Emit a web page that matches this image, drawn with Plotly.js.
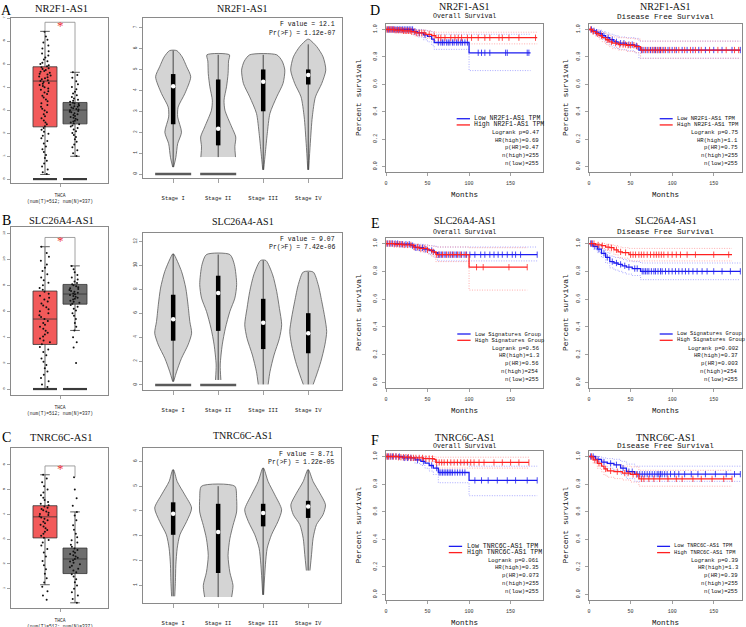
<!DOCTYPE html>
<html>
<head>
<meta charset="utf-8">
<script src="https://cdn.plot.ly/plotly-3.0.1.min.js"></script>
<style>
  html, body { margin: 0; padding: 0; background: #fff; }
  #fig { width: 746px; height: 627px; }
</style>
</head>
<body>
<div id="fig"></div>
<script>
// ---------- data ----------
const genes = ['NR2F1-AS1', 'SLC26A4-AS1', 'TNRC6C-AS1'];
const letters = [['A', 'D'], ['B', 'E'], ['C', 'F']];

// GEPIA boxplots (tumor, normal), log2(TPM+1)
const boxQ1 = [[2.27, 2.40], [3.44, 6.55], [3.05, 1.61]];
const boxMed = [[4.26, 3.00], [5.40, 7.33], [3.90, 2.20]];
const boxQ3 = [[4.88, 3.33], [7.56, 8.07], [4.35, 2.64]];
const boxLo = [[0.20, 0.99], [0.00, 4.52], [1.16, 0.43]];
const boxHi = [[6.42, 4.64], [10.98, 9.50], [5.60, 4.10]];
const boxZeros = [true, true, false];
const tumorPts = [
  [0.22,0.3,0.42,0.55,0.68,0.8,0.92,1.05,1.18,1.3,1.42,1.55,1.66,1.78,1.88,1.97,2.06,2.14,2.22,2.3,2.38,2.46,2.55,2.64,2.73,2.82,2.9,2.98,3.06,3.14,3.22,3.3,3.38,3.46,3.54,3.62,3.7,3.76,3.82,3.88,3.94,3.99,4.04,4.09,4.14,4.18,4.22,4.26,4.3,4.34,4.38,4.42,4.46,4.5,4.54,4.58,4.62,4.66,4.7,4.74,4.78,4.82,4.86,4.9,4.95,5.0,5.06,5.12,5.2,5.28,5.37,5.46,5.56,5.68,5.8,5.93,6.06,6.2,6.4],
  [0.15,0.35,0.6,0.85,1.1,1.35,1.6,1.85,2.1,2.35,2.6,2.85,3.05,3.25,3.45,3.6,3.75,3.9,4.05,4.2,4.35,4.5,4.65,4.8,4.95,5.1,5.25,5.4,5.55,5.7,5.85,6.0,6.15,6.3,6.45,6.6,6.75,6.9,7.05,7.2,7.35,7.5,7.65,7.8,8.0,8.2,8.4,8.6,8.85,9.1,9.35,9.6,9.9,10.2,10.5,10.98],
  [0.55,0.72,0.9,1.08,1.25,1.42,1.6,1.78,1.95,2.12,2.3,2.46,2.6,2.74,2.86,2.97,3.06,3.14,3.22,3.3,3.37,3.44,3.51,3.58,3.64,3.7,3.76,3.82,3.87,3.92,3.97,4.02,4.07,4.12,4.17,4.22,4.27,4.32,4.37,4.43,4.5,4.58,4.67,4.77,4.88,5.0,5.14,5.3,5.45,5.6]
];
const normalPts = [
  [1.0,1.12,1.25,1.38,1.5,1.62,1.73,1.83,1.92,2.0,2.08,2.15,2.22,2.28,2.33,2.38,2.42,2.46,2.5,2.54,2.58,2.62,2.66,2.7,2.74,2.78,2.82,2.86,2.9,2.93,2.96,2.99,3.02,3.05,3.08,3.11,3.14,3.17,3.2,3.23,3.26,3.29,3.32,3.36,3.4,3.45,3.5,3.57,3.64,3.72,3.8,3.9,4.0,4.12,4.25,4.4,4.52,4.64],
  [2.0,3.2,3.6,4.0,4.52,4.8,5.1,5.4,5.65,5.85,6.05,6.2,6.35,6.48,6.58,6.66,6.74,6.82,6.9,6.97,7.04,7.11,7.18,7.25,7.31,7.37,7.43,7.5,7.57,7.64,7.71,7.78,7.85,7.92,8.0,8.08,8.18,8.3,8.45,8.6,8.8,9.0,9.25,9.5],
  [0.43,0.58,0.72,0.86,1.0,1.13,1.26,1.38,1.49,1.58,1.66,1.73,1.8,1.87,1.93,1.99,2.05,2.1,2.15,2.2,2.25,2.3,2.35,2.4,2.45,2.5,2.56,2.62,2.69,2.77,2.86,2.96,3.08,3.22,3.38,3.56,3.76,3.95,4.1,4.35,4.65,5.0,5.5]
];

// violins by stage: outline levels and half widths, plus box summary
const stages = ['Stage I', 'Stage II', 'Stage III', 'Stage IV'];
const fValue = ['12.1', '9.07', '8.71'];
const prF = ['1.12e-07', '7.42e-06', '1.22e-05'];
const vioLevels = [
  [[0.33,0.8,1.45,2.0,2.73,3.2,3.85,4.65,5.13,5.6,5.9], [0.81,1.3,1.77,2.25,3.05,3.53,4.17,4.8,5.4,5.7], [0.2,0.97,1.93,2.9,3.69,4.33,4.97,5.4,5.7], [0.2,1.45,2.73,3.69,4.33,4.97,5.6,6.09,6.44]],
  [[0.28,1.1,2.23,3.35,4.33,5.3,6.7,8.1,9.5,10.95], [0.42,1.67,3.35,4.75,6.15,7.26,8.4,10.05,10.9], [0.05,1.1,2.5,3.9,5.03,6.4,7.8,9.2,10.4], [0.05,0.84,1.95,3.35,4.47,5.6,7.0,8.4,9.44]],
  [[0.56,1.16,1.83,2.5,3.04,3.58,4.12,4.65,5.19,5.66], [0.53,1.0,1.53,2.2,2.88,3.42,3.96,4.5,5.0], [0.62,1.83,2.5,3.04,3.58,4.05,4.65,5.19,5.73], [1.6,2.24,2.9,3.45,3.85,4.25,4.72,5.19,5.66]]
];
const vioHalf = [
  [[0.01,0.06,0.1,0.185,0.1,0.11,0.26,0.39,0.3,0.2,0.08], [0.385,0.37,0.39,0.3,0.15,0.13,0.185,0.22,0.23,0.25], [0.01,0.045,0.09,0.15,0.3,0.44,0.48,0.42,0.3], [0.01,0.045,0.09,0.16,0.3,0.39,0.33,0.19,0.02]],
  [[0.01,0.075,0.185,0.33,0.41,0.37,0.33,0.28,0.185,0.01], [0.06,0.045,0.09,0.16,0.26,0.37,0.41,0.36,0.26], [0.11,0.15,0.24,0.36,0.41,0.36,0.3,0.21,0.06], [0.11,0.185,0.28,0.37,0.41,0.37,0.3,0.22,0.11]],
  [[0.035,0.05,0.06,0.09,0.15,0.3,0.41,0.26,0.09,0.01], [0.3,0.33,0.26,0.22,0.26,0.33,0.41,0.41,0.37], [0.01,0.05,0.09,0.185,0.33,0.41,0.26,0.11,0.01], [0.04,0.075,0.11,0.185,0.33,0.385,0.26,0.11,0.01]]
];
const vioQ1 = [[2.38,1.37,3.0,4.28], [3.7,4.52,3.0,2.65], [3.04,1.5,3.38,3.72]];
const vioMed = [[4.2,2.17,4.41,4.73], [5.5,7.68,5.2,4.33], [3.89,3.15,3.92,4.18]];
const vioQ3 = [[4.78,4.52,5.0,5.0], [7.54,9.13,7.2,6.0], [4.35,4.29,4.29,4.41]];
const vioMin = [[0.33,0.81,0.2,0.2], [0.28,0.42,0.05,0.05], [0.56,0.53,0.62,1.6]];
const vioMax = [[5.9,5.7,5.7,6.2], [10.95,10.9,10.4,9.44], [5.66,5.0,5.73,5.66]];
const vioZeros = [[true,true,false,false], [true,true,false,false], [false,false,false,false]];

// Kaplan-Meier curves, panels: row1 OS, row1 DFS, row2 OS, row2 DFS, row3 OS, row3 DFS
const lowLabels = ['Low NR2F1-AS1 TPM', 'Low Signatures Group', 'Low TNRC6C-AS1 TPM'];
const highLabels = ['High NR2F1-AS1 TPM', 'High Signatures Group', 'High TNRC6C-AS1 TPM'];
const logrankP = ['0.47', '0.75', '0.56', '0.002', '0.061', '0.39'];
const hrHigh = ['0.69', '1.1', '1.3', '0.37', '0.35', '1.3'];
const pHR = ['0.47', '0.75', '0.56', '0.003', '0.073', '0.39'];
const nHigh = [255, 255, 254, 254, 255, 255];
const nLow = [255, 255, 255, 255, 255, 255];

const lowT = [
  [0,33,38,45,50,55,58,100,174],
  [0,4,8,12,16,20,25,30,35,45,55,60,182],
  [0,15,30,35,45,52,58,62,182],
  [0,5,10,15,20,25,30,35,40,45,52,62,182],
  [0,20,35,42,47,52,57,63,100,182],
  [0,8,15,22,30,38,45,55,182]
];
const lowS = [
  [1,0.985,0.975,0.96,0.95,0.93,0.905,0.83,0.83],
  [1,0.99,0.98,0.97,0.955,0.94,0.925,0.91,0.9,0.89,0.88,0.85,0.85],
  [1,0.995,0.985,0.97,0.96,0.95,0.935,0.92,0.92],
  [1,0.98,0.96,0.93,0.9,0.87,0.86,0.85,0.84,0.83,0.82,0.8,0.8],
  [1,0.99,0.975,0.965,0.952,0.935,0.916,0.884,0.827,0.827],
  [1,0.98,0.96,0.95,0.94,0.916,0.89,0.872,0.872]
];
const lowUp = [
  [1,1,1,0.995,0.99,0.98,0.965,0.965,0.965],
  [1,1,1,0.995,0.985,0.975,0.965,0.955,0.945,0.94,0.935,0.915,0.915],
  [1,1,1,0.995,0.99,0.985,0.98,0.975,0.975],
  [1,1,0.985,0.96,0.935,0.91,0.9,0.895,0.885,0.875,0.87,0.86,0.86],
  [1,1,1,0.995,0.99,0.98,0.965,0.95,0.93,0.93],
  [1,1,0.99,0.985,0.98,0.965,0.945,0.93,0.93]
];
const lowLo = [
  [1,0.96,0.945,0.925,0.91,0.885,0.855,0.7,0.7],
  [1,0.975,0.96,0.945,0.925,0.905,0.885,0.87,0.855,0.845,0.83,0.79,0.79],
  [1,0.985,0.97,0.95,0.935,0.92,0.9,0.875,0.875],
  [1,0.96,0.935,0.9,0.86,0.825,0.81,0.8,0.79,0.78,0.77,0.74,0.74],
  [1,0.975,0.95,0.935,0.915,0.895,0.87,0.81,0.716,0.716],
  [1,0.96,0.93,0.915,0.9,0.87,0.84,0.82,0.82]
];
const lowCens = [
  [2,4,6,8,10,12,14,16,18,20,22,24,26,28,30,32,35,40,47,63,66,68,70,73,75,77,80,82,85,87,90,92,95,98,111,115,119,125,144,146,170,172],
  [3,6,9,14,18,23,28,33,38,42,48,52,57,63,66,70,74,77,80,83,86,90,95,100,105,112,118,125,132,140,150,160,172,182],
  [2,5,8,11,14,17,20,24,28,32,36,40,44,48,55,63,65,67,70,72,75,78,80,83,85,88,91,94,97,101,107,114,119,125,130,135,140,146,152,156,162,182],
  [2,4,7,12,18,22,28,33,38,43,48,55,58,64,66,68,70,72,75,78,80,83,86,88,92,96,100,104,108,112,116,120,125,130,136,142,150,160,170,182],
  [2,5,8,12,16,22,26,30,38,45,55,61,64,66,68,70,72,74,76,78,80,83,86,89,92,95,107,115,123,134,146,156,170,182],
  [2,5,11,18,26,33,41,48,52,58,61,64,67,70,73,76,79,82,84,86,88,91,94,98,103,108,115,123,131,140,152,165,175,182]
];
const highT = [
  [0,10,20,30,35,48,55,60,182],
  [0,4,8,12,16,20,24,28,35,45,55,62,182],
  [0,10,20,33,40,50,55,60,100,170],
  [0,8,15,20,25,30,35,40,48,172],
  [0,15,30,45,58,60,172],
  [0,5,10,15,18,22,30,40,50,60,172]
];
const highS = [
  [1,0.995,0.99,0.985,0.975,0.965,0.955,0.94,0.94],
  [1,0.985,0.97,0.955,0.94,0.925,0.91,0.9,0.89,0.885,0.875,0.85,0.85],
  [1,0.995,0.99,0.975,0.965,0.955,0.94,0.92,0.83,0.83],
  [1,0.99,0.985,0.975,0.97,0.955,0.94,0.935,0.92,0.92],
  [1,0.995,0.99,0.985,0.98,0.957,0.957],
  [1,0.975,0.95,0.93,0.91,0.896,0.89,0.88,0.87,0.838,0.838]
];
const highUp = [
  [1,1,1,1,0.995,0.99,0.985,0.98,0.98],
  [1,1,0.995,0.985,0.975,0.965,0.955,0.945,0.94,0.935,0.93,0.915,0.915],
  [1,1,1,0.995,0.99,0.985,0.98,0.975,0.97,0.97],
  [1,1,1,0.995,0.99,0.985,0.975,0.97,0.965,0.965],
  [1,1,1,1,1,0.995,0.995],
  [1,1,0.985,0.97,0.955,0.945,0.94,0.93,0.925,0.9,0.9]
];
const highLo = [
  [1,0.985,0.975,0.965,0.95,0.935,0.92,0.895,0.895],
  [1,0.97,0.95,0.93,0.91,0.89,0.875,0.86,0.85,0.84,0.83,0.79,0.79],
  [1,0.985,0.975,0.955,0.94,0.925,0.905,0.87,0.665,0.665],
  [1,0.975,0.965,0.95,0.94,0.92,0.9,0.895,0.875,0.875],
  [1,0.985,0.975,0.965,0.955,0.916,0.916],
  [1,0.95,0.915,0.89,0.865,0.85,0.84,0.83,0.815,0.785,0.785]
];
const highCens = [
  [1,3,5,7,9,11,13,15,17,19,21,23,25,27,29,31,34,37,40,43,46,52,58,63,66,71,78,83,87,91,98,103,111,119,125,136,140,148,160,180],
  [2,5,10,15,22,27,32,37,41,44,47,50,54,58,64,68,72,76,79,82,85,88,92,97,103,108,115,122,128,135,145,155,165,175,180],
  [1,4,7,10,13,16,19,22,26,30,34,38,42,46,50,57,61,64,68,73,77,81,86,90,96,109,117,148,170],
  [3,6,11,16,23,27,33,38,44,50,53,56,60,63,66,70,74,78,81,84,87,90,95,100,105,110,118,128,150,168],
  [1,3,6,9,12,15,18,21,24,27,30,33,36,40,44,48,52,56,61,64,67,70,74,78,82,86,90,94,98,102,106,112,118,130,140,150,160,172],
  [3,7,12,20,26,34,43,47,53,57,63,66,72,78,85,95,105,112,125,135,148,162,172]
];

// ---------- page geometry (pixels of the 746x627 figure) ----------
const W = 746, H = 627;
const MONO = 'Liberation Mono, DejaVu Sans Mono, monospace';
const SERIF = 'Liberation Serif, DejaVu Serif, serif';
const INK = '#111';
const px = v => v / W;
const py = v => 1 - v / H;

const boxFrameX = [11, 108];
const boxFrameY = [[18, 183], [227, 395], [448, 608]];
const boxXRange = [-0.133, 3.1];
const boxYRange = [[-0.17, 7.0], [-0.46, 12.5], [0.22, 6.68]];
const boxDtick = [1, 2, 1];
const vioFrameX = [[143, 342], [143, 342], [143, 341]];
const vioFrameY = [[18, 178], [233, 390], [448, 603]];
const vioXRange = [[0.33, 4.75], [0.33, 4.75], [0.33, 4.73]];
const vioYRange = [[-0.19, 7.46], [-0.42, 12.7], [0.29, 6.54]];
const vioDtick = [1, 2, 1];
const kmFrameX = [[386, 543], [589, 742]];
const kmFrameY = [[24, 172], [238, 388], [451, 600]];
const kmXRange = [[0, 189], [0, 184]];
const kmTitleY = [6, 220, 437];
const kmSubY = [17, 232, 446];
const boxTitleY = [9, 220, 437];
const vioTitleY = [9, 221, 435];
const letterY = [[10, 10], [220, 224], [437, 440]];
const legendFont = [6.5, 5.7, 5.5, 5.4, 6.6, 5.4];
const legendStart = [0.55, 0.562, 0.554, 0.562, 0.50, 0.545];

const TUMOR = '#f25a5a', NORMAL = '#6e6e6e';
const BLUE = '#1c1cf0', RED = '#ff2020';
const BLUE_CI = '#8585ff', RED_CI = '#ff8a8a';

const traces = [], shapes = [], annotations = [];
const layout = {
  width: W, height: H,
  margin: { l: 0, r: 0, t: 0, b: 0 },
  paper_bgcolor: '#fff', plot_bgcolor: '#fff',
  showlegend: false, boxmode: 'overlay'
};

const sfx = n => (n === 1 ? '' : String(n));

function frameAxis(domain, range, extra) {
  return Object.assign({
    domain, range,
    showline: true, mirror: true, linecolor: '#8a8a8a', linewidth: 1,
    ticks: 'outside', ticklen: 3, tickwidth: 0.8, tickcolor: '#8a8a8a',
    showgrid: false, zeroline: false, fixedrange: true,
    tickfont: { family: MONO, size: 5, color: '#333' }
  }, extra);
}

function note(text, x, y, size, opts) {
  annotations.push(Object.assign({
    text, x, y, xref: 'paper', yref: 'paper', showarrow: false,
    xanchor: 'center', yanchor: 'middle',
    font: { family: MONO, size, color: INK }
  }, opts));
}

function survAt(T, S, t) {
  let v = S[0];
  for (let i = 0; i < T.length; i++) if (T[i] <= t) v = S[i];
  return v;
}

for (let r = 0; r < 3; r++) {
  // ---------------- boxplot ----------------
  const nB = 4 * r + 1, xa = 'x' + sfx(nB), ya = 'y' + sfx(nB);
  layout['xaxis' + sfx(nB)] = frameAxis([px(boxFrameX[0]), px(boxFrameX[1])], boxXRange, {
    anchor: ya, tickvals: [1.5], ticktext: ['THCA<br>(num(T)=512; num(N)=337)'],
    ticklabelstandoff: 4, tickfont: { family: MONO, size: 4.6, color: '#222' }
  });
  layout['yaxis' + sfx(nB)] = frameAxis([py(boxFrameY[r][1]), py(boxFrameY[r][0])], boxYRange[r], {
    anchor: xa, tick0: 0, dtick: boxDtick[r], tickangle: -90, tickfont: { family: MONO, size: 4, color: '#444' }
  });
  [0, 1].forEach(g => {
    traces.push({
      type: 'box', orientation: 'v', xaxis: xa, yaxis: ya, x: [g + 1],
      q1: [boxQ1[r][g]], median: [boxMed[r][g]], q3: [boxQ3[r][g]],
      lowerfence: [boxLo[r][g]], upperfence: [boxHi[r][g]],
      width: 0.8, whiskerwidth: 0.4, boxpoints: false,
      fillcolor: g ? NORMAL : TUMOR, line: { color: '#333', width: 0.8 }, hoverinfo: 'skip'
    });
    const pts = g ? normalPts[r] : tumorPts[r];
    traces.push({
      type: 'box', orientation: 'v', xaxis: xa, yaxis: ya, x: pts.map(() => g + 1), y: pts,
      width: 0.8, boxpoints: 'all', jitter: 0.5, pointpos: 0,
      fillcolor: 'rgba(0,0,0,0)', line: { width: 0, color: 'rgba(0,0,0,0)' },
      marker: { size: 2, color: '#111' }, hoverinfo: 'skip'
    });
    if (boxZeros[r]) {
      traces.push({
        type: 'scatter', mode: 'lines', xaxis: xa, yaxis: ya,
        x: [g + 1 - 0.4, g + 1 + 0.4], y: [0, 0],
        line: { color: '#3a3a3a', width: 2.2 }, hoverinfo: 'skip'
      });
    }
  });
  // significance bracket
  const span = boxYRange[r][1] - boxYRange[r][0];
  const normMax = Math.max(...normalPts[r]);
  const top = Math.max(boxHi[r][0], normMax) + 0.055 * span;
  shapes.push({ type: 'path', xref: xa, yref: ya,
    path: `M1,${boxHi[r][0]} L1,${top} L2,${top} L2,${normMax}`,
    line: { color: '#8a8a8a', width: 0.8 } });
  annotations.push({ text: '*', x: 1.5, y: top, xref: xa, yref: ya, showarrow: false,
    yanchor: 'middle', yshift: -3, font: { family: SERIF, size: 13, color: '#ee3333' } });
  note(genes[r], px(61), py(boxTitleY[r]), 10.5, { font: { family: SERIF, size: 10.5, color: INK } });
  note(letters[r][0], px(7), py(letterY[r][0]), 14, { font: { family: SERIF, size: 14, color: '#000' } });

  // ---------------- violins ----------------
  const nV = 4 * r + 2, xv = 'x' + sfx(nV), yv = 'y' + sfx(nV);
  layout['xaxis' + sfx(nV)] = frameAxis([px(vioFrameX[r][0]), px(vioFrameX[r][1])], vioXRange[r], {
    anchor: yv, tickvals: [1, 2, 3, 4], ticktext: stages, ticklen: 4, ticklabelstandoff: 10,
    tickfont: { family: MONO, size: 5.5, color: '#222' }
  });
  layout['yaxis' + sfx(nV)] = frameAxis([py(vioFrameY[r][1]), py(vioFrameY[r][0])], vioYRange[r], {
    anchor: xv, tick0: 0, dtick: vioDtick[r], tickangle: -90, tickfont: { family: MONO, size: 4.5, color: '#444' }
  });
  stages.forEach((st, s) => {
    const pos = s + 1, lv = vioLevels[r][s], hw = vioHalf[r][s];
    const rev = lv.map((_, i) => lv.length - 1 - i);
    traces.push({
      type: 'scatter', mode: 'lines', xaxis: xv, yaxis: yv,
      x: lv.map((_, i) => pos + hw[i]).concat(rev.map(i => pos - hw[i])),
      y: lv.concat(rev.map(i => lv[i])),
      fill: 'toself', fillcolor: '#d4d4d4',
      line: { color: '#5a5a5a', width: 0.8, shape: 'spline', smoothing: 0.7 }, hoverinfo: 'skip'
    });
    traces.push({ type: 'scatter', mode: 'lines', xaxis: xv, yaxis: yv, x: [pos, pos],
      y: [vioMin[r][s], vioMax[r][s]], line: { color: '#222', width: 0.8 }, hoverinfo: 'skip' });
    traces.push({ type: 'scatter', mode: 'lines', xaxis: xv, yaxis: yv, x: [pos, pos],
      y: [vioQ1[r][s], vioQ3[r][s]], line: { color: '#000', width: 4.5 }, hoverinfo: 'skip' });
    traces.push({ type: 'scatter', mode: 'markers', xaxis: xv, yaxis: yv, x: [pos],
      y: [vioMed[r][s]], marker: { color: '#fff', size: 4.5 }, hoverinfo: 'skip' });
    if (vioZeros[r][s]) {
      traces.push({ type: 'scatter', mode: 'lines', xaxis: xv, yaxis: yv, x: [pos - 0.4, pos + 0.4],
        y: [0, 0], line: { color: '#5a5a5a', width: 2.4 }, hoverinfo: 'skip' });
    }
  });
  annotations.push({ text: 'F value = ' + fValue[r], xref: xv + ' domain', yref: yv + ' domain',
    x: 0.977, y: 0.96, xanchor: 'right', yanchor: 'middle', showarrow: false,
    font: { family: MONO, size: 6.5, color: INK } });
  annotations.push({ text: 'Pr(>F) = ' + prF[r], xref: xv + ' domain', yref: yv + ' domain',
    x: 0.977, y: 0.905, xanchor: 'right', yanchor: 'middle', showarrow: false,
    font: { family: MONO, size: 6.5, color: INK } });
  note(genes[r], px((vioFrameX[r][0] + vioFrameX[r][1]) / 2), py(vioTitleY[r]), 10,
    { font: { family: SERIF, size: 10, color: INK } });

  // ---------------- Kaplan-Meier (OS, DFS) ----------------
  for (let d = 0; d < 2; d++) {
    const k = 2 * r + d, n = 4 * r + 3 + d, xk = 'x' + sfx(n), yk = 'y' + sfx(n);
    const fx = kmFrameX[d], fy = kmFrameY[r];
    layout['xaxis' + sfx(n)] = frameAxis([px(fx[0]), px(fx[1])], kmXRange[d], {
      anchor: yk, tickvals: [0, 50, 100, 150], ticklabelstandoff: 3,
      tickfont: { family: MONO, size: 5, color: '#333' }
    });
    layout['yaxis' + sfx(n)] = frameAxis([py(fy[1]), py(fy[0])], [-0.04, 1.04], {
      anchor: xk, tickvals: [0, 0.2, 0.4, 0.6, 0.8, 1.0], tickformat: '.1f', tickangle: -90,
      ticklabelstandoff: 3, tickfont: { family: MONO, size: 5, color: '#333' }
    });
    const groups = [
      { T: lowT[k], S: lowS[k], U: lowUp[k], L: lowLo[k], C: lowCens[k], col: BLUE, ci: BLUE_CI },
      { T: highT[k], S: highS[k], U: highUp[k], L: highLo[k], C: highCens[k], col: RED, ci: RED_CI }
    ];
    groups.forEach(g => {
      [g.U, g.L].forEach(band => traces.push({ type: 'scatter', mode: 'lines', xaxis: xk, yaxis: yk,
        x: g.T, y: band, line: { shape: 'hv', dash: '1px,1.5px', width: 0.7, color: g.ci }, hoverinfo: 'skip' }));
    });
    groups.forEach(g => {
      traces.push({ type: 'scatter', mode: 'lines', xaxis: xk, yaxis: yk, x: g.T, y: g.S,
        line: { shape: 'hv', width: 1.3, color: g.col }, hoverinfo: 'skip' });
      traces.push({ type: 'scatter', mode: 'markers', xaxis: xk, yaxis: yk, x: g.C,
        y: g.C.map(t => survAt(g.T, g.S, t)),
        marker: { symbol: 'line-ns-open', size: 4.5, color: g.col, line: { width: 0.8, color: g.col } },
        hoverinfo: 'skip' });
    });

    // legend block
    const ls = legendStart[k];
    [[lowLabels[r], BLUE, 0.36], [highLabels[r], RED, 0.318]].forEach(([lab, col, yy]) => {
      shapes.push({ type: 'line', xref: xk + ' domain', yref: yk + ' domain',
        x0: ls - 0.1, x1: ls - 0.015, y0: yy, y1: yy, line: { color: col, width: 1.3 } });
      annotations.push({ text: lab, xref: xk + ' domain', yref: yk + ' domain', x: ls, y: yy,
        xanchor: 'left', yanchor: 'middle', showarrow: false,
        font: { family: MONO, size: legendFont[k], color: INK } });
    });
    const stats = ['Logrank p=' + logrankP[k], 'HR(high)=' + hrHigh[k], 'p(HR)=' + pHR[k],
      'n(high)=' + nHigh[k], 'n(low)=' + nLow[k]];
    const statY = [0.265, 0.215, 0.165, 0.113, 0.06];
    stats.forEach((t, i) => annotations.push({ text: t, xref: xk + ' domain', yref: yk + ' domain',
      x: 0.987, y: statY[i], xanchor: 'right', yanchor: 'middle', showarrow: false,
      font: { family: MONO, size: 5.6, color: INK } }));

    const cx = px((fx[0] + fx[1]) / 2);
    note(genes[r], cx, py(kmTitleY[r]), 10, { font: { family: SERIF, size: 10, color: INK } });
    note(d ? 'Disease Free Survival' : 'Overall Survival', cx, py(kmSubY[r]), d ? 7.7 : 6.6);
    note('Months', cx, py(fy[1] + 23), 7.5);
    note('Percent survival', px(d ? 565 : 358), py((fy[0] + fy[1]) / 2), 8, { textangle: -90 });
  }
  note(letters[r][1], px(375), py(letterY[r][1]), 14, { font: { family: SERIF, size: 14, color: '#000' } });
}

layout.shapes = shapes;
layout.annotations = annotations;
Plotly.newPlot('fig', traces, layout, { displayModeBar: false, staticPlot: true });
</script>
</body>
</html>
